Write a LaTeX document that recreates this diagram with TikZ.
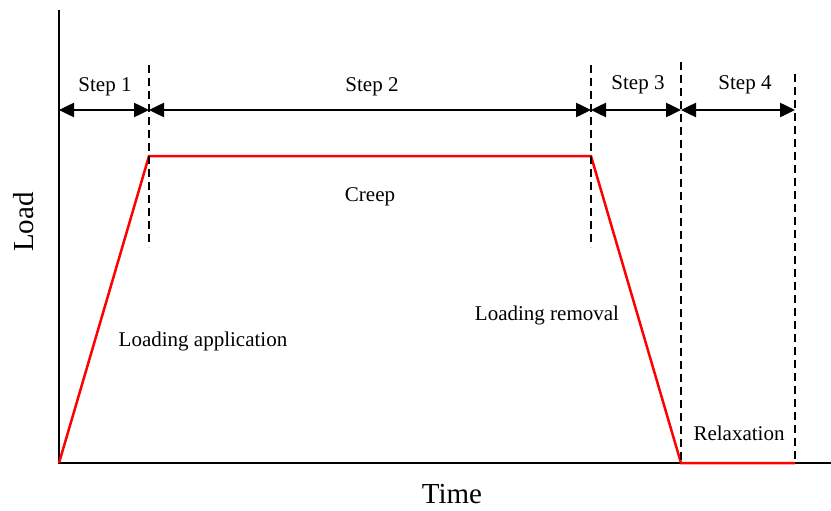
\documentclass[tikz,border=0pt]{standalone}
\usepackage{fontspec}
\setmainfont{Liberation Serif}
\usetikzlibrary{arrows.meta}
\usetikzlibrary{positioning}

\begin{document}
\begin{tikzpicture}[x=1pt, y=-1pt, font=\fontsize{21}{25}\selectfont]
    \tikzstyle{txt}=[inner sep=0pt, anchor=base]
    \tikzstyle{guide}=[draw=black, line width=1.6pt, dash pattern=on 8pt off 5pt]
    \tikzstyle{span}=[{Triangle[length=15pt,width=14pt]}-{Triangle[length=15pt,width=14pt]}, line width=2.5pt]
    \tikzstyle{curve}=[draw=red, line width=2.5pt, line join=miter]

    \useasboundingbox (0,0) rectangle (831,511);

    % axes
    \coordinate (O) at (59,463);
    \coordinate (ytop) at (59,10);
    \coordinate (xend) at (831,463);
    \draw[line width=1.6pt] (ytop) -- (O) -- (xend);
    \node[txt, font=\fontsize{29}{34}\selectfont, rotate=90] (load) at (33,222) {Load};
    \node[txt, font=\fontsize{29}{34}\selectfont] (time) at (452,503) {Time};

    % load history
    \coordinate (p1) at (149,156);
    \coordinate (p2) at (591,156);
    \coordinate (p3) at (681,463);
    \coordinate (p4) at (795,463);
    \draw[curve] (O) -- (p1) -- (p2) -- (p3) -- (p4);

    % step limits
    \draw[guide] (149,65) -- (149,247);
    \draw[guide] (591,65) -- (591,247);
    \draw[guide] (681,62) -- (p3);
    \draw[guide] (795,74) -- (p4);

    % step arrows
    \coordinate (a0) at (59,110);
    \coordinate (a1) at (149,110);
    \coordinate (a2) at (591,110);
    \coordinate (a3) at (681,110);
    \coordinate (a4) at (795,110);
    \draw[span] (a0) -- (a1);
    \draw[span] (a1) -- (a2);
    \draw[span] (a2) -- (a3);
    \draw[span] (a3) -- (a4);

    \node[txt] (s1) at (105,92) {Step 1};
    \node[txt] (s2) at (372,92) {Step 2};
    \node[txt] (s3) at (638,89) {Step 3};
    \node[txt] (s4) at (745,89) {Step 4};

    \node[txt] (creep) at (370,201) {Creep};
    \node[txt] (apply) at (203,346) {Loading application};
    \node[txt] (remove) at (547,320) {Loading removal};
    \node[txt] (relax) at (739,440) {Relaxation};
\end{tikzpicture}
\end{document}
